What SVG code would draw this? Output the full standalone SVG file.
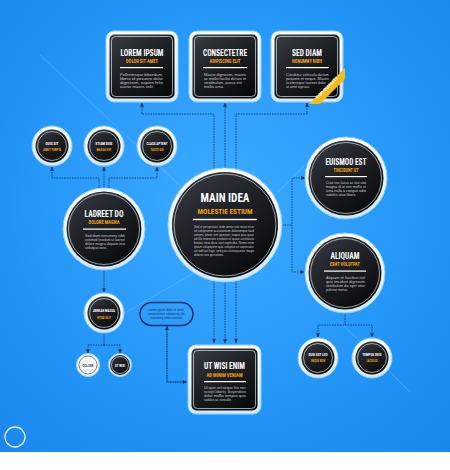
<svg xmlns="http://www.w3.org/2000/svg" width="450" height="470" viewBox="0 0 450 470">
<defs>
<radialGradient id="bg" cx="0.5" cy="0.45" r="0.75">
<stop offset="0" stop-color="#3eabff"/>
<stop offset="0.6" stop-color="#2396f8"/>
<stop offset="1" stop-color="#1a86ec"/>
</radialGradient>
<linearGradient id="dark" x1="0" y1="0" x2="0.7" y2="1">
<stop offset="0" stop-color="#3a3e46"/>
<stop offset="0.45" stop-color="#202328"/>
<stop offset="1" stop-color="#0a0b0d"/>
</linearGradient>
<linearGradient id="halo" x1="0" y1="0" x2="0" y2="1">
<stop offset="0" stop-color="#ffffff"/>
<stop offset="1" stop-color="#cfe8fb"/>
</linearGradient>
<linearGradient id="gold" x1="0" y1="0" x2="1" y2="1">
<stop offset="0" stop-color="#ffd84a"/>
<stop offset="1" stop-color="#e6a800"/>
</linearGradient>
<marker id="ah" viewBox="0 0 6 6" refX="5.5" refY="3" markerWidth="4" markerHeight="4" markerUnits="userSpaceOnUse" orient="auto-start-reverse">
<path d="M0,0 L6,3 L0,6z" fill="#12306e"/>
</marker>
<style>
.halo{fill:url(#halo);stroke:#8fd0ff;stroke-width:1}
.dk{fill:url(#dark)}
.il{fill:none;stroke:#ffffff;stroke-width:0.7;stroke-opacity:0.85}
.t{font-family:"Liberation Sans Narrow","Roboto Condensed","Liberation Sans",Arial,sans-serif;font-weight:bold;fill:#ffffff;text-anchor:middle}
.s{font-family:"Liberation Sans Narrow","Roboto Condensed","Liberation Sans",Arial,sans-serif;font-weight:bold;fill:#f5a20a;text-anchor:middle}
.b{font-family:"Liberation Sans",Arial,sans-serif;font-size:3.6px;fill:#c9cdd3}
.ln{fill:#ffffff}
.c{fill:none;stroke:#12306e;stroke-width:0.8;stroke-dasharray:1.6 1}
.dot{fill:none;stroke:#12306e;stroke-width:1.3;stroke-dasharray:0.1 1.6;stroke-linecap:round}
.wm{stroke:#80c9ff;stroke-width:0.8;stroke-opacity:0.45;fill:none}
.p{font-family:"Liberation Sans",Arial,sans-serif;font-size:3.4px;fill:#12306e;text-anchor:middle}
</style>
</defs>
<rect x="0" y="0" width="450" height="452" fill="url(#bg)"/>
<rect x="0" y="452" width="450" height="18" fill="#ffffff"/>
<g id="watermark">
<path class="wm" d="M40,55 L190,195"/>
<path class="wm" d="M95,330 L260,235"/>
<path class="wm" d="M340,322 L410,392"/>
<path class="wm" d="M270,200 L330,140"/>
</g>
<g id="connectors">
<path class="c" d="M214,169 V114 H142 V103" marker-end="url(#ah)"/>
<path class="c" d="M225,168 V103" marker-end="url(#ah)"/>
<path class="c" d="M236,169 V114 H307 V103" marker-end="url(#ah)"/>
<path class="c" d="M214,281 V343" marker-end="url(#ah)"/>
<path class="c" d="M225,282 V343" marker-end="url(#ah)"/>
<path class="c" d="M236,281 V343" marker-end="url(#ah)"/>
<path class="c" d="M282,225 H292"/>
<path class="c" d="M305,178 H292 V272 H304" marker-start="url(#ah)" marker-end="url(#ah)"/>
<path class="c" d="M99,189 V178 H52 V167" marker-end="url(#ah)"/>
<path class="c" d="M104,188 V167" marker-end="url(#ah)"/>
<path class="c" d="M109,189 V178 H157 V167" marker-end="url(#ah)"/>
<path class="c" d="M104,270 V292" marker-end="url(#ah)"/>
<path class="c" d="M104,333 V345"/>
<path class="c" d="M88,353 V345 H120 V353" marker-start="url(#ah)" marker-end="url(#ah)"/>
<path class="c" d="M345,313 V325"/>
<path class="c" d="M318,337 V325 H372 V337" marker-start="url(#ah)" marker-end="url(#ah)"/>
<path class="dot" d="M167,326 V382 H186"/>
<path d="M183,380 L187,382 L183,384z" fill="#12306e"/>
<path d="M165,330 L167,326 L169,330z" fill="#12306e"/>
</g>
<g id="box1">
<rect class="halo" x="106" y="31" width="72" height="71" rx="8"/>
<rect class="dk" x="109.5" y="34.5" width="65" height="64" rx="5"/>
<rect class="il" x="111.5" y="36.5" width="61" height="60" rx="4"/>
<text class="t" x="142" y="55.5" font-size="9.5" textLength="43" lengthAdjust="spacingAndGlyphs">LOREM IPSUM</text>
<text class="s" x="142" y="62.5" font-size="5" textLength="32" lengthAdjust="spacingAndGlyphs">DOLOR SIT AMET</text>
<rect class="ln" x="120" y="67" width="43" height="1.2"/>
<text class="b" x="120" y="75.5" textLength="43" lengthAdjust="spacingAndGlyphs">Pellentesque bibendum,</text>
<text class="b" x="120" y="79.5" textLength="43" lengthAdjust="spacingAndGlyphs">libero id posuere dolor</text>
<text class="b" x="120" y="83.5" textLength="43" lengthAdjust="spacingAndGlyphs">dignissim, sapien felis</text>
<text class="b" x="120" y="87.5" textLength="34" lengthAdjust="spacingAndGlyphs">auctor mauris velit.</text>
</g>
<g id="box2">
<rect class="halo" x="189" y="31" width="72" height="71" rx="8"/>
<rect class="dk" x="192.5" y="34.5" width="65" height="64" rx="5"/>
<rect class="il" x="194.5" y="36.5" width="61" height="60" rx="4"/>
<text class="t" x="225" y="55.5" font-size="9.5" textLength="44" lengthAdjust="spacingAndGlyphs">CONSECTETRE</text>
<text class="s" x="225" y="62.5" font-size="5" textLength="31" lengthAdjust="spacingAndGlyphs">ADIPISCING ELIT</text>
<rect class="ln" x="203" y="67" width="44" height="1.2"/>
<text class="b" x="204" y="75.5" textLength="42" lengthAdjust="spacingAndGlyphs">Mauris dignissim, mauris</text>
<text class="b" x="204" y="79.5" textLength="42" lengthAdjust="spacingAndGlyphs">ac mollis facilisi dictum et</text>
<text class="b" x="204" y="83.5" textLength="38" lengthAdjust="spacingAndGlyphs">vestibulum, purus est</text>
<text class="b" x="204" y="87.5" textLength="20" lengthAdjust="spacingAndGlyphs">mollis urna.</text>
</g>
<g id="box3">
<rect class="halo" x="271" y="31" width="72" height="71" rx="8"/>
<rect class="dk" x="274.5" y="34.5" width="65" height="64" rx="5"/>
<rect class="il" x="276.5" y="36.5" width="61" height="60" rx="4"/>
<text class="t" x="307" y="55.5" font-size="9.5" textLength="30" lengthAdjust="spacingAndGlyphs">SED DIAM</text>
<text class="s" x="307" y="62.5" font-size="5" textLength="30" lengthAdjust="spacingAndGlyphs">NONUMMY NIBH</text>
<rect class="ln" x="286" y="67" width="43" height="1.2"/>
<text class="b" x="286" y="75.5" textLength="43" lengthAdjust="spacingAndGlyphs">Curabitur vehicula dictum</text>
<text class="b" x="286" y="79.5" textLength="43" lengthAdjust="spacingAndGlyphs">posuere et neque. Mauris</text>
<text class="b" x="286" y="83.5" textLength="40" lengthAdjust="spacingAndGlyphs">scelerisque laoreet dolor</text>
<text class="b" x="286" y="87.5" textLength="24" lengthAdjust="spacingAndGlyphs">sit amet egestas.</text>
<polygon points="309,104 320,104 345,79 345,68" fill="url(#gold)"/>
<text x="328" y="88.5" font-family="Liberation Sans Narrow,Liberation Sans,Arial,sans-serif" font-weight="bold" font-size="4.4" fill="#ffffff" text-anchor="middle" transform="rotate(-45 328 88.5)">TOP QUALITY</text>
</g>
<g id="sc1">
<circle class="halo" cx="52" cy="146" r="20"/>
<circle class="dk" cx="52" cy="146" r="16.5"/>
<circle class="il" cx="52" cy="146" r="14.5"/>
<text class="t" x="52" y="144.5" font-size="4.4" textLength="13" lengthAdjust="spacingAndGlyphs">DUIS SIT</text>
<text class="s" x="52" y="151" font-size="4.2" textLength="18" lengthAdjust="spacingAndGlyphs">AMET TURPIS</text>
</g>
<g id="sc2">
<circle class="halo" cx="104" cy="146" r="20"/>
<circle class="dk" cx="104" cy="146" r="16.5"/>
<circle class="il" cx="104" cy="146" r="14.5"/>
<text class="t" x="104" y="144.5" font-size="4.4" textLength="17" lengthAdjust="spacingAndGlyphs">ETIAM DUIS</text>
<text class="s" x="104" y="151" font-size="4.2" textLength="15" lengthAdjust="spacingAndGlyphs">MASSA EST</text>
</g>
<g id="sc3">
<circle class="halo" cx="157" cy="146" r="20"/>
<circle class="dk" cx="157" cy="146" r="16.5"/>
<circle class="il" cx="157" cy="146" r="14.5"/>
<text class="t" x="157" y="144.5" font-size="4.4" textLength="21" lengthAdjust="spacingAndGlyphs">CLASS APTENT</text>
<text class="s" x="157" y="151" font-size="4.2" textLength="13" lengthAdjust="spacingAndGlyphs">TACITI AD</text>
</g>
<g id="main">
<circle class="halo" cx="225" cy="225" r="57"/>
<circle class="dk" cx="225" cy="225" r="53"/>
<circle class="il" cx="225" cy="225" r="51"/>
<text class="t" x="225" y="202" font-size="13.5" textLength="49" lengthAdjust="spacingAndGlyphs">MAIN IDEA</text>
<text class="s" x="225" y="214" font-size="8" textLength="55" lengthAdjust="spacingAndGlyphs">MOLESTIE ESTIUM</text>
<rect class="ln" x="193" y="218.8" width="64" height="1.4"/>
<text class="b" x="194" y="228" textLength="60" lengthAdjust="spacingAndGlyphs">Sed ut perspiciatis unde omnis iste natus error</text>
<text class="b" x="194" y="232" textLength="60" lengthAdjust="spacingAndGlyphs">sit voluptatem accusantium doloremque laud</text>
<text class="b" x="194" y="236" textLength="60" lengthAdjust="spacingAndGlyphs">antium, totam rem aperiam, eaque ipsa quae</text>
<text class="b" x="194" y="240" textLength="60" lengthAdjust="spacingAndGlyphs">ab illo inventore veritatis et quasi architecto</text>
<text class="b" x="194" y="244" textLength="60" lengthAdjust="spacingAndGlyphs">beatae vitae dicta sunt explicabo. Nemo enim</text>
<text class="b" x="194" y="248" textLength="60" lengthAdjust="spacingAndGlyphs">ipsam voluptatem quia voluptas sit aspernatur</text>
<text class="b" x="194" y="252" textLength="60" lengthAdjust="spacingAndGlyphs">aut odit aut fugit, sed quia consequuntur magni</text>
<text class="b" x="194" y="256" textLength="30" lengthAdjust="spacingAndGlyphs">dolores eos qui ratione.</text>
</g>
<g id="laoreet">
<circle class="halo" cx="104" cy="229" r="41"/>
<circle class="dk" cx="104" cy="229" r="37.5"/>
<circle class="il" cx="104" cy="229" r="35.5"/>
<text class="t" x="104" y="217" font-size="9.5" textLength="39" lengthAdjust="spacingAndGlyphs">LADREET DO</text>
<text class="s" x="104" y="224" font-size="5" textLength="31" lengthAdjust="spacingAndGlyphs">DOLORE MAGNA</text>
<rect class="ln" x="83" y="228.5" width="43" height="1.2"/>
<text class="b" x="85" y="237" textLength="40" lengthAdjust="spacingAndGlyphs">Sed diam nonummy nibh</text>
<text class="b" x="85" y="241" textLength="40" lengthAdjust="spacingAndGlyphs">euismod tincidunt ut laoreet</text>
<text class="b" x="85" y="245" textLength="40" lengthAdjust="spacingAndGlyphs">dolore magna aliquam erat</text>
<text class="b" x="85" y="249" textLength="22" lengthAdjust="spacingAndGlyphs">volutpat wisi.</text>
</g>
<g id="euismod">
<circle class="halo" cx="346" cy="178" r="41"/>
<circle class="dk" cx="346" cy="178" r="37.5"/>
<circle class="il" cx="346" cy="178" r="35.5"/>
<text class="t" x="346" y="165" font-size="9.5" textLength="41" lengthAdjust="spacingAndGlyphs">EUISMOD EST</text>
<text class="s" x="346" y="172" font-size="5" textLength="25" lengthAdjust="spacingAndGlyphs">TINCIDUNT UT</text>
<rect class="ln" x="325" y="176" width="42" height="1.2"/>
<text class="b" x="326" y="184" textLength="40" lengthAdjust="spacingAndGlyphs">Cras nec lacus ac nisi sed</text>
<text class="b" x="326" y="188" textLength="40" lengthAdjust="spacingAndGlyphs">magna id ut non mollis et</text>
<text class="b" x="326" y="192" textLength="40" lengthAdjust="spacingAndGlyphs">urna nulla a congue odio</text>
<text class="b" x="326" y="196" textLength="30" lengthAdjust="spacingAndGlyphs">sodales vitae libero.</text>
</g>
<g id="aliquam">
<circle class="halo" cx="345" cy="273" r="40"/>
<circle class="dk" cx="345" cy="273" r="36.5"/>
<circle class="il" cx="345" cy="273" r="34.5"/>
<text class="t" x="345" y="259" font-size="9.5" textLength="29" lengthAdjust="spacingAndGlyphs">ALIQUAM</text>
<text class="s" x="345" y="266" font-size="5" textLength="30" lengthAdjust="spacingAndGlyphs">ERAT VOLUTPAT</text>
<rect class="ln" x="324" y="270.5" width="42" height="1.2"/>
<text class="b" x="326" y="279" textLength="39" lengthAdjust="spacingAndGlyphs">Aliquam sit faucibus nisl</text>
<text class="b" x="326" y="283" textLength="39" lengthAdjust="spacingAndGlyphs">quis tincidunt dignissim</text>
<text class="b" x="326" y="287" textLength="39" lengthAdjust="spacingAndGlyphs">vestibulum dui eget vitae</text>
<text class="b" x="326" y="291" textLength="22" lengthAdjust="spacingAndGlyphs">pulvinar metus.</text>
</g>
<g id="aenean">
<circle class="halo" cx="104" cy="313" r="20"/>
<circle class="dk" cx="104" cy="313" r="16.5"/>
<circle class="il" cx="104" cy="313" r="14.5"/>
<text class="t" x="104" y="311.5" font-size="4.4" textLength="22" lengthAdjust="spacingAndGlyphs">AENEAN MASSA</text>
<text class="s" x="104" y="318.5" font-size="4.4" textLength="14" lengthAdjust="spacingAndGlyphs">VITAE ELIT</text>
</g>
<g id="dolore">
<circle cx="88" cy="365" r="11.5" fill="#f4f8fc" stroke="#9fd6ff" stroke-width="1"/>
<circle cx="88" cy="365" r="9" fill="none" stroke="#3a3e46" stroke-width="0.6"/>
<text x="88" y="366.5" font-family="Liberation Sans Narrow,Liberation Sans,Arial,sans-serif" font-weight="bold" font-size="4" fill="#2a2d33" text-anchor="middle" textLength="11" lengthAdjust="spacingAndGlyphs">DOLORE</text>
</g>
<g id="utwisi">
<circle cx="120" cy="365" r="11.5" fill="#d8ecfb" stroke="#9fd6ff" stroke-width="0.8"/>
<circle class="dk" cx="120" cy="365" r="10"/>
<circle class="il" cx="120" cy="365" r="8.5"/>
<text class="t" x="120" y="366.5" font-size="4" textLength="10" lengthAdjust="spacingAndGlyphs">UT WISI</text>
</g>
<g id="duis">
<circle class="halo" cx="318" cy="358" r="20"/>
<circle class="dk" cx="318" cy="358" r="16.5"/>
<circle class="il" cx="318" cy="358" r="14.5"/>
<text class="t" x="318" y="355.5" font-size="4.4" textLength="19" lengthAdjust="spacingAndGlyphs">DUIS EST LEO</text>
<text class="s" x="318" y="362" font-size="4.2" textLength="14" lengthAdjust="spacingAndGlyphs">NEQUE NON</text>
</g>
<g id="tempus">
<circle class="halo" cx="372" cy="358" r="20"/>
<circle class="dk" cx="372" cy="358" r="16.5"/>
<circle class="il" cx="372" cy="358" r="14.5"/>
<text class="t" x="372" y="355.5" font-size="4.4" textLength="19" lengthAdjust="spacingAndGlyphs">TEMPUS DUIS</text>
<text class="s" x="372" y="362" font-size="4.2" textLength="11" lengthAdjust="spacingAndGlyphs">IACULIS</text>
</g>
<g id="pill">
<rect x="140" y="302.5" width="53" height="23" rx="11.5" fill="none" stroke="#12306e" stroke-width="1.5"/>
<text class="p" x="166.5" y="311" textLength="36" lengthAdjust="spacingAndGlyphs">Lorem ipsum dolor sit amet,</text>
<text class="p" x="166.5" y="315" textLength="38" lengthAdjust="spacingAndGlyphs">consectetuer adipiscing elit,</text>
<text class="p" x="166.5" y="319" textLength="32" lengthAdjust="spacingAndGlyphs">nonummy nibh euismod.</text>
</g>
<g id="box4">
<rect class="halo" x="188" y="345" width="73" height="69" rx="8"/>
<rect class="dk" x="191.5" y="348.5" width="66" height="62" rx="5"/>
<rect class="il" x="193.5" y="350.5" width="62" height="58" rx="4"/>
<text class="t" x="224.5" y="369" font-size="9.5" textLength="41" lengthAdjust="spacingAndGlyphs">UT WISI ENIM</text>
<text class="s" x="224.5" y="376.5" font-size="5" textLength="36" lengthAdjust="spacingAndGlyphs">AD MINIM VENIAM</text>
<rect class="ln" x="204" y="381" width="42" height="1.2"/>
<text class="b" x="204" y="389" textLength="42" lengthAdjust="spacingAndGlyphs">Ut quis vel neque leo nec</text>
<text class="b" x="204" y="393" textLength="42" lengthAdjust="spacingAndGlyphs">suscipit lobortis. Suspendisse</text>
<text class="b" x="204" y="397" textLength="42" lengthAdjust="spacingAndGlyphs">dolor mollis tempus quis</text>
<text class="b" x="204" y="401" textLength="28" lengthAdjust="spacingAndGlyphs">sodales ac convallis.</text>
</g>
<g id="logo">
<circle cx="15" cy="437" r="10" fill="none" stroke="#e8f4ff" stroke-width="1.3"/>
</g>
</svg>
